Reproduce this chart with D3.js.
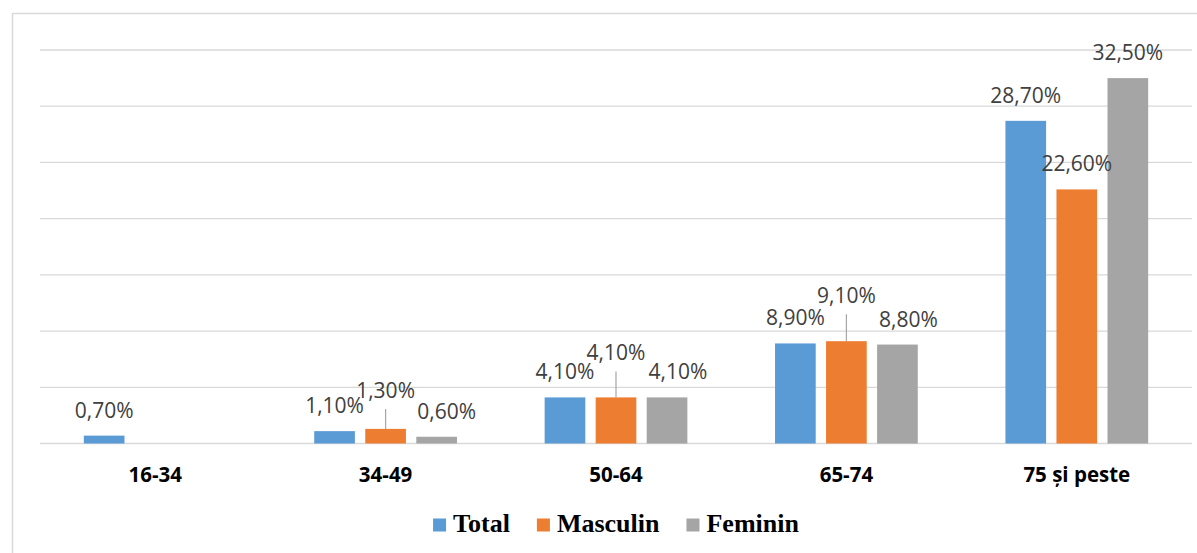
<!DOCTYPE html>
<html>
<head>
<meta charset="utf-8">
<script src="https://cdn.jsdelivr.net/npm/d3@7/dist/d3.min.js"></script>
<style>
  html, body { margin: 0; padding: 0; background: #fff; }
  svg { display: block; }
</style>
</head>
<body>
<svg id="chart" width="1197" height="553"></svg>
<script>
// Age groups and the share for each group, by sex (null = not reported)
const categories = ["16-34", "34-49", "50-64", "65-74", "75 și peste"];
const seriesNames = ["Total", "Masculin", "Feminin"];
const totalValues = [0.7, 1.1, 4.1, 8.9, 28.7];
const masculinValues = [null, 1.3, 4.1, 9.1, 22.6];
const femininValues = [null, 0.6, 4.1, 8.8, 32.5];
const yTicks = [0, 5, 10, 15, 20, 25, 30, 35];

const seriesValues = [totalValues, masculinValues, femininValues];
const colors = ["#5b9bd5", "#ed7d31", "#a5a5a5"];

const svg = d3.select("#chart");
const plot = { left: 40, right: 1192, top: 50, bottom: 443.5 };

// Chart frame (right/bottom edges fall outside the page)
svg.append("rect")
  .attr("x", 12.5).attr("y", 13.5)
  .attr("width", 1300).attr("height", 700)
  .attr("fill", "none").attr("stroke", "#d9d9d9").attr("stroke-width", 1.5);

const x0 = d3.scaleBand().domain(categories).range([plot.left, plot.right]).padding(0);
const y = d3.scaleLinear().domain([0, 35]).range([plot.bottom, plot.top]);

// Bar layout inside each group: bar width and centre-to-centre step
const barW = x0.bandwidth() * 0.1765;
const barStep = barW * 1.255;

// Horizontal gridlines
svg.append("g")
  .selectAll("line")
  .data(yTicks)
  .join("line")
  .attr("x1", plot.left).attr("x2", plot.right)
  .attr("y1", d => y(d)).attr("y2", d => y(d))
  .attr("stroke", "#d9d9d9")
  .attr("stroke-width", d => d === 0 ? 1.6 : 1.3);

// Flattened bar records
const bars = [];
categories.forEach((c, ci) => {
  seriesValues.forEach((vals, si) => {
    const v = vals[ci];
    if (v == null) return;
    const cx = x0(c) + x0.bandwidth() / 2 + (si - 1) * barStep;
    bars.push({ c, ci, si, v, cx });
  });
});

svg.append("g")
  .selectAll("rect")
  .data(bars)
  .join("rect")
  .attr("x", d => d.cx - barW / 2)
  .attr("y", d => y(d.v))
  .attr("width", barW)
  .attr("height", d => y(0) - y(d.v))
  .attr("fill", d => colors[d.si]);

// Label placement: default sits just above the bar; some labels are
// lifted (with a leader line) or nudged sideways to avoid overlaps.
const labelLift = { "1-1": 31, "2-1": 37, "3-1": 38 };
const labelShift = { "1-2": 10, "2-2": 11, "3-2": 11 };
const fmt = v => d3.format(".2f")(v).replace(".", ",") + "%";

const labels = svg.append("g")
  .attr("font-family", "'Open Sans', 'Noto Sans', sans-serif")
  .attr("font-size", 21)
  .attr("fill", "#404040");

bars.forEach(d => {
  const key = d.ci + "-" + d.si;
  const lift = labelLift[key] || 18;
  const shift = labelShift[key] || 0;
  const top = y(d.v);
  const base = top - lift;
  if (labelLift[key]) {
    svg.append("line")
      .attr("x1", d.cx).attr("x2", d.cx)
      .attr("y1", top).attr("y2", base + 11)
      .attr("stroke", "#a6a6a6").attr("stroke-width", 1.2);
  }
  labels.append("text")
    .attr("x", d.cx + shift)
    .attr("y", base)
    .attr("text-anchor", "middle")
    .text(fmt(d.v));
});

// Category axis labels
svg.append("g")
  .selectAll("text")
  .data(categories)
  .join("text")
  .attr("x", d => x0(d) + x0.bandwidth() / 2)
  .attr("y", 482)
  .attr("text-anchor", "middle")
  .attr("font-family", "'Open Sans', 'Noto Sans', sans-serif")
  .attr("font-weight", "bold")
  .attr("font-size", 20.5)
  .attr("fill", "#000")
  .text(d => d);

// Legend
const legend = svg.append("g");
const sw = 13, gapText = 7, gapItem = 27, legendBase = 531.5;
const items = seriesNames.map((name, i) => {
  const g = legend.append("g");
  g.append("rect").attr("width", sw).attr("height", sw)
    .attr("y", legendBase - sw).attr("fill", colors[i]);
  const t = g.append("text")
    .attr("x", sw + gapText).attr("y", legendBase)
    .attr("font-family", "'Liberation Serif', 'Times New Roman', serif")
    .attr("font-weight", "bold")
    .attr("font-size", 26)
    .attr("fill", "#000")
    .text(name);
  return { g, w: sw + gapText + t.node().getComputedTextLength() };
});
const totalW = d3.sum(items, d => d.w) + gapItem * (items.length - 1);
let lx = (plot.left + plot.right) / 2 - totalW / 2;
items.forEach(it => {
  it.g.attr("transform", `translate(${lx},0)`);
  lx += it.w + gapItem;
});
</script>
</body>
</html>
